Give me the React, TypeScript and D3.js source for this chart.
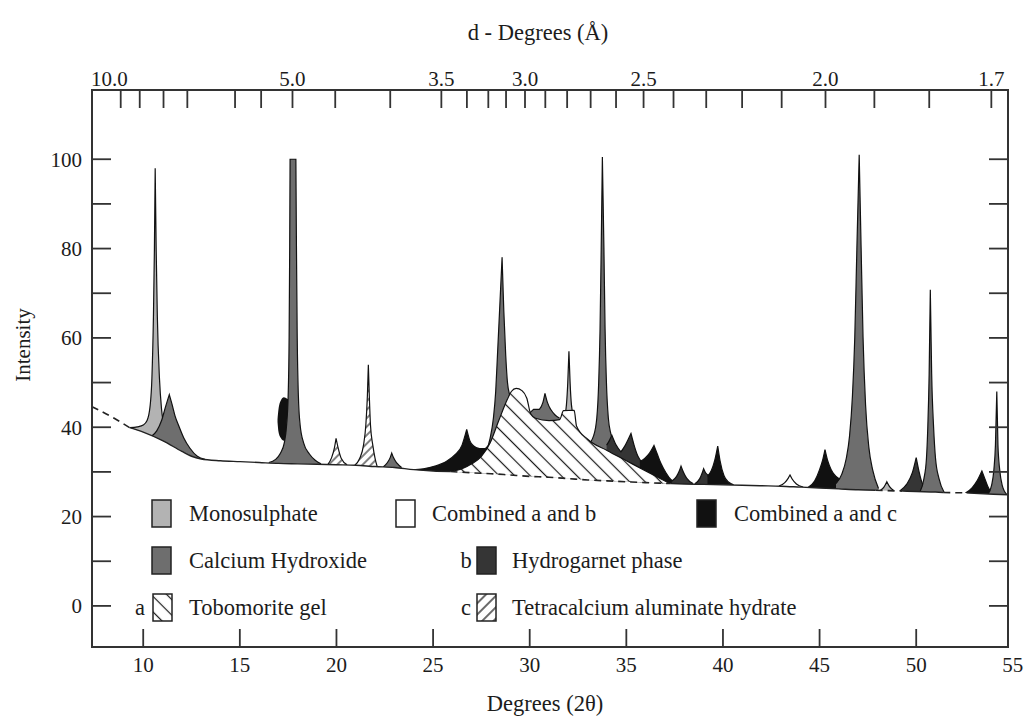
import React from 'react';
import * as d3 from 'd3';

// ---- chart data ----

// 2-theta ticks on the bottom axis
const thetaTicks = [10, 15, 20, 25, 30, 35, 40, 45, 50];
const thetaLabels = [10, 15, 20, 25, 30, 35, 40, 45, 50, 55];
// intensity ticks
const intensityTicks = [0, 10, 20, 30, 40, 50, 60, 70, 80, 90, 100];
const intensityLabels = [0, 20, 40, 60, 80, 100];
// d-spacing ticks on the top axis (Angstrom)
const dTicks = [10, 9, 8, 7.2, 6, 5.5, 5, 4.45, 3.9, 3.5, 3.33, 3.2, 3.1, 3.0, 2.9, 2.8, 2.7, 2.6, 2.5, 2.4, 2.3, 2.2, 2.1, 2.0, 1.9, 1.8, 1.7];
const dLabels = ['10.0', '5.0', '3.5', '3.0', '2.5', '2.0', '1.7'];

// background curve [2theta, intensity]
const baseline = [
  [7.35, 44.6], [8.5, 42.0], [9.3, 39.9], [10, 38.9], [11, 37.0], [12, 34.6], [12.5, 33.5], [13, 32.9],
  [14, 32.5], [15, 32.3], [16, 32.1], [17, 31.9], [18, 31.8], [19, 31.7], [20, 31.6], [21, 31.5],
  [22, 31.2], [23, 31.0], [24, 30.5], [25, 30.2], [25.9, 30.1], [27, 29.8], [28, 29.6], [29, 29.3],
  [30, 29.0], [31, 28.8], [32, 28.5], [33, 28.2], [34, 28.0], [35, 27.8], [36, 27.6], [37.3, 27.4],
  [38, 27.3], [39, 27.2], [40, 27.1], [41, 27.0], [42, 26.9], [43, 26.8], [44, 26.6], [45, 26.4],
  [46, 26.2], [47, 26.0], [47.9, 25.9], [49.3, 25.7], [50, 25.6], [51, 25.5], [51.4, 25.4],
  [52.6, 25.3], [53, 25.2], [54, 25.0], [54.75, 24.9]
];
const dashedRanges = [[7.35, 9.3], [25.9, 37.3], [47.9, 49.3], [51.4, 52.6]];

// peak outlines [2theta, intensity], left to right
const mono106 = [[9.3, 39.9], [9.7, 40.1], [10.0, 40.5], [10.2, 41.5], [10.35, 44.5], [10.45, 51], [10.53, 65], [10.58, 80], [10.62, 98], [10.67, 80], [10.73, 65], [10.84, 51], [10.95, 44], [11.1, 40]];
const ch113 = [[10.43, 38.0], [10.7, 39.2], [10.95, 41.5], [11.15, 44.5], [11.35, 47.3], [11.5, 45.0], [11.65, 42.5], [11.85, 40.2], [12.1, 37.6], [12.42, 35.3], [12.8, 33.5], [13.2, 32.8]];
// [2theta, top, bottom]
const lens172 = [[16.95, 41.8, 41.2], [17.0, 44.0, 39.0], [17.12, 46.0, 37.6], [17.28, 46.7, 37.0], [17.45, 46.4, 37.3], [17.6, 46.0, 38.0]];
const ch177 = [[16.5, 32.1], [16.85, 32.8], [17.1, 34.2], [17.3, 36.5], [17.42, 40.5], [17.5, 47], [17.55, 60], [17.58, 80], [17.6, 100], [17.9, 100], [17.93, 80], [17.97, 60], [18.03, 47], [18.12, 40.5], [18.3, 36.5], [18.6, 34.0], [18.9, 32.6], [19.2, 31.8]];
const tet200 = [[19.55, 31.65], [19.75, 33.2], [19.9, 35.5], [19.98, 37.5], [20.08, 35.5], [20.25, 33.0], [20.55, 31.6]];
const tet216 = [[20.95, 31.5], [21.2, 33.0], [21.4, 36.0], [21.52, 40.5], [21.6, 47], [21.65, 54.0], [21.7, 47], [21.76, 40.5], [21.88, 36.0], [22.0, 33.0], [22.1, 31.3]];
const ch229 = [[22.42, 31.1], [22.62, 32.0], [22.78, 33.2], [22.86, 34.2], [22.95, 33.2], [23.12, 32.0], [23.37, 31.0]];
const ac267 = [[23.9, 30.5], [24.5, 30.7], [25.1, 31.3], [25.7, 32.4], [26.15, 33.9], [26.5, 36.0], [26.74, 39.5], [26.9, 37.0], [27.1, 35.8], [27.4, 35.2], [27.7, 35.2], [28.0, 36.5]];
const ch286 = [[27.7, 34.0], [27.95, 37.5], [28.12, 42.0], [28.24, 48.0], [28.33, 56.0], [28.44, 66.0], [28.57, 78.0], [28.66, 66.0], [28.76, 56.0], [28.85, 50.0], [28.95, 47.5], [29.05, 46.5]];
const ch308 = [[29.95, 43.0], [30.2, 44.0], [30.5, 44.0], [30.68, 45.5], [30.79, 47.6], [30.92, 45.5], [31.1, 43.9], [31.3, 42.8], [31.55, 42.0]];
const mono320 = [[31.78, 42.0], [31.9, 45.0], [31.97, 50.0], [32.03, 57.0], [32.09, 50.0], [32.16, 45.0], [32.3, 42.0]];
const ch338 = [[33.0, 36.0], [33.3, 38.0], [33.47, 42.0], [33.57, 50.0], [33.64, 62.0], [33.7, 80.0], [33.76, 100.5], [33.84, 80.0], [33.9, 62.0], [33.97, 50.0], [34.07, 42.0], [34.2, 38.5], [34.45, 35.5]];
const hg345 = [[33.98, 36.0], [34.12, 37.0], [34.25, 38.2], [34.45, 36.2], [34.72, 34.5], [34.95, 36.0], [35.1, 37.3], [35.24, 38.6], [35.4, 36.0], [35.6, 33.5], [35.8, 32.2], [36.0, 31.5]];
const ac364 = [[35.7, 32.3], [35.95, 33.0], [36.2, 34.2], [36.43, 35.9], [36.6, 34.0], [36.8, 31.8], [37.05, 29.8], [37.3, 28.3], [37.55, 27.6]];
const tobHump = [[25.9, 30.1], [26.5, 30.7], [27.0, 31.8], [27.5, 33.5], [27.95, 36.5], [28.4, 41.5], [28.85, 46.3], [29.05, 48.0], [29.3, 48.7], [29.6, 48.2], [29.85, 46.5], [30.05, 43.0], [30.3, 42.0], [31.0, 41.5], [31.55, 41.7], [31.75, 43.7], [32.3, 43.8], [32.42, 40.3], [33.0, 37.3], [34.0, 34.8], [35.0, 32.5], [36.0, 30.2], [37.25, 27.4]];
const hg378 = [[37.35, 27.9], [37.6, 29.0], [37.75, 30.3], [37.83, 31.3], [37.95, 30.0], [38.12, 28.6], [38.45, 27.4]];
const hg390 = [[38.55, 27.35], [38.8, 28.5], [38.93, 29.8], [39.0, 30.7], [39.1, 29.8], [39.25, 29.2], [39.4, 29.8]];
const ac397 = [[39.2, 29.0], [39.4, 30.3], [39.57, 32.5], [39.73, 35.8], [39.85, 32.5], [40.05, 29.2], [40.3, 27.7], [40.55, 27.1]];
const ab435 = [[42.9, 26.85], [43.2, 27.6], [43.38, 28.6], [43.47, 29.3], [43.58, 28.4], [43.8, 27.3], [44.15, 26.6]];
const ac453 = [[44.4, 26.5], [44.75, 28.0], [45.0, 30.5], [45.15, 32.5], [45.28, 35.0], [45.42, 32.5], [45.6, 30.5], [45.85, 29.0], [46.1, 28.3], [46.3, 28.6]];
const ch470 = [[45.85, 27.4], [46.15, 29.5], [46.38, 33.0], [46.55, 38.0], [46.7, 47.0], [46.82, 60.0], [46.93, 80.0], [47.05, 101.0], [47.15, 80.0], [47.25, 60.0], [47.38, 45.0], [47.55, 35.5], [47.75, 30.4], [48.05, 26.3]];
const mono485 = [[48.15, 25.9], [48.33, 26.6], [48.48, 27.8], [48.62, 26.7], [48.85, 25.8]];
const hg500 = [[49.15, 25.7], [49.5, 27.2], [49.8, 29.8], [50.0, 33.2], [50.15, 30.0], [50.3, 27.6], [50.5, 26.6]];
const ch507 = [[50.2, 25.6], [50.4, 28.5], [50.53, 33.0], [50.6, 40.0], [50.67, 52.0], [50.73, 70.8], [50.8, 52.0], [50.9, 40.0], [51.0, 33.0], [51.18, 28.5], [51.45, 25.4]];
const ac534 = [[52.55, 25.25], [52.9, 26.5], [53.15, 28.0], [53.4, 30.2], [53.55, 28.5], [53.7, 26.8], [53.85, 25.6]];
const ch542 = [[53.72, 25.1], [53.9, 27.0], [54.02, 30.5], [54.1, 36.0], [54.17, 48.0], [54.23, 36.0], [54.32, 30.5], [54.45, 27.0], [54.7, 24.9]];

// drawing order, back to front
const peaks = [
  { pts: mono106, phase: 'mono' },
  { pts: ch113, phase: 'ch' },
  { pts: ch177, phase: 'ch' },
  { pts: tet200, phase: 'tet' },
  { pts: tet216, phase: 'tet' },
  { pts: ch229, phase: 'ch' },
  { pts: ac267, phase: 'ac' },
  { pts: ch286, phase: 'ch' },
  { pts: ch308, phase: 'ch' },
  { pts: mono320, phase: 'mono' },
  { pts: ch338, phase: 'ch' },
  { pts: hg345, phase: 'hg' },
  { pts: ac364, phase: 'ac' },
  { pts: tobHump, phase: 'tob', smooth: true },
  { pts: hg378, phase: 'hg' },
  { pts: hg390, phase: 'hg' },
  { pts: ac397, phase: 'ac' },
  { pts: ab435, phase: 'ab' },
  { pts: ac453, phase: 'ac' },
  { pts: ch470, phase: 'ch' },
  { pts: mono485, phase: 'mono' },
  { pts: hg500, phase: 'hg' },
  { pts: ch507, phase: 'ch' },
  { pts: ac534, phase: 'ac' },
  { pts: ch542, phase: 'ch' },
];

const legendEntries = [
  { label: 'Monosulphate', phase: 'mono', letter: '' },
  { label: 'Calcium Hydroxide', phase: 'ch', letter: '' },
  { label: 'Tobomorite gel', phase: 'tob', letter: 'a' },
  { label: 'Combined a and b', phase: 'ab', letter: '' },
  { label: 'Hydrogarnet phase', phase: 'hg', letter: 'b' },
  { label: 'Tetracalcium aluminate hydrate', phase: 'tet', letter: 'c' },
  { label: 'Combined a and c', phase: 'ac', letter: '' },
];

// ---- layout ----
const W = 1026, H = 717;
const frame = { left: 92, right: 1008, top: 90, bottom: 647 };
const FONT = "'Liberation Serif', 'DejaVu Serif', serif";
const INK = '#1c1c1c';

const fills = {
  mono: '#b3b3b3', ch: '#6e6e6e', hg: '#353535', ac: '#111111', ab: '#ffffff',
  tob: 'url(#hatchBack)', tet: 'url(#hatchFwd)'
};

const x = d3.scaleLinear().domain([7.35, 54.75]).range([frame.left, frame.right]);
const y = d3.scaleLinear().domain([-9.2, 115.5]).range([frame.bottom, frame.top]);

// Cu K-alpha
const LAMBDA = 1.5406;
const dToTheta = (d: number) => 2 * Math.asin(LAMBDA / (2 * d)) * 180 / Math.PI;

const lineGen = d3.line<number[]>().x(d => x(d[0])).y(d => y(d[1])).curve(d3.curveMonotoneX);

// split an outline where it changes direction, so peak tips stay sharp
function pieces(pts: number[][]) {
  const segs: number[][][] = [];
  let cur = [pts[0]];
  let dir = 0;
  for (let i = 1; i < pts.length; i++) {
    const s = Math.sign(pts[i][1] - pts[i - 1][1]);
    if (cur.length > 1 && s !== dir) {
      segs.push(cur);
      cur = [pts[i - 1]];
    }
    cur.push(pts[i]);
    dir = s;
  }
  segs.push(cur);
  return segs;
}

function outline(pts: number[][], smooth?: boolean) {
  if (smooth) return lineGen(pts) as string;
  return pieces(pts).map((s, i) => {
    const p = lineGen(s) as string;
    return i ? 'L' + p.slice(1) : p;
  }).join('');
}

function fillPath(pts: number[][], smooth?: boolean) {
  const a = pts[0], b = pts[pts.length - 1];
  return outline(pts, smooth) + `L${x(b[0])},${y(15)}L${x(a[0])},${y(15)}Z`;
}

const clipD = d3.area<number[]>().x(d => x(d[0])).y0(d => y(d[1])).y1(y(116)).curve(d3.curveMonotoneX)(baseline) as string;
const lensD = d3.area<number[]>().x(d => x(d[0])).y0(d => y(d[2])).y1(d => y(d[1])).curve(d3.curveMonotoneX)(lens172) as string;

function baseSegments() {
  const solid: number[][] = [];
  let start = baseline[0][0];
  dashedRanges.forEach(r => {
    if (r[0] > start) solid.push([start, r[0]]);
    start = r[1];
  });
  if (start < baseline[baseline.length - 1][0]) solid.push([start, baseline[baseline.length - 1][0]]);
  const seg = (r: number[]) => lineGen(baseline.filter(p => p[0] >= r[0] - 1e-6 && p[0] <= r[1] + 1e-6)) as string;
  return { solid: solid.map(seg), dashed: dashedRanges.map(seg) };
}

const legendSlots = [
  { bx: 152, tx: 189, row: 0 },
  { bx: 152, tx: 189, row: 1 },
  { bx: 153, tx: 189, row: 2, lx: 140 },
  { bx: 396, tx: 432, row: 0 },
  { bx: 477, tx: 512, row: 1, lx: 466 },
  { bx: 477, tx: 512, row: 2, lx: 466 },
  { bx: 697, tx: 734, row: 0 },
];
const rowTop = [500, 547, 594];

export default function App() {
  const segs = baseSegments();
  const textStyle = { fontFamily: FONT, fontSize: 21, fill: INK };
  const bigText = { fontFamily: FONT, fontSize: 22.5, fill: INK };
  return (
    <svg width={W} height={H} style={{ position: 'absolute', left: 0, top: 0, background: '#fff' }}>
      <defs>
        <pattern id="hatchBack" patternUnits="userSpaceOnUse" width="11" height="11" patternTransform="rotate(-45)">
          <rect width="11" height="11" fill="#fff" />
          <line x1="5.5" y1="-1" x2="5.5" y2="12" stroke="#1a1a1a" strokeWidth="1.2" />
        </pattern>
        <pattern id="hatchFwd" patternUnits="userSpaceOnUse" width="6" height="6" patternTransform="rotate(45)">
          <rect width="6" height="6" fill="#fff" />
          <line x1="3" y1="-1" x2="3" y2="7" stroke="#1a1a1a" strokeWidth="1.1" />
        </pattern>
        <pattern id="hatchFwdLegend" patternUnits="userSpaceOnUse" width="8" height="8" patternTransform="rotate(45)">
          <rect width="8" height="8" fill="#fff" />
          <line x1="4" y1="-1" x2="4" y2="9" stroke="#1a1a1a" strokeWidth="1.3" />
        </pattern>
        <clipPath id="aboveBase">
          <path d={clipD} />
        </clipPath>
      </defs>

      <rect width={W} height={H} fill="#fff" />

      {/* peaks */}
      <g clipPath="url(#aboveBase)">
        {peaks.map((p, i) => (
          <g key={i}>
            {i === 2 && <path d={lensD} fill={fills.ac} />}
            <path d={fillPath(p.pts, p.smooth)} fill={fills[p.phase]} />
            <path d={outline(p.pts, p.smooth)} fill="none" stroke="#111" strokeWidth={1.2} />
          </g>
        ))}
      </g>

      {/* background line */}
      {segs.solid.map((d, i) => <path key={'s' + i} d={d} fill="none" stroke="#222" strokeWidth={1.4} />)}
      {segs.dashed.map((d, i) => <path key={'d' + i} d={d} fill="none" stroke="#222" strokeWidth={1.6} strokeDasharray="7,5" />)}

      {/* frame */}
      <rect x={frame.left} y={frame.top} width={frame.right - frame.left} height={frame.bottom - frame.top}
        fill="none" stroke="#333" strokeWidth={2} />

      {/* left / right ticks */}
      {intensityTicks.map(t => (
        <g key={'y' + t} stroke="#333" strokeWidth={1.8}>
          <line x1={frame.left} x2={frame.left + 19} y1={y(t)} y2={y(t)} />
          <line x1={frame.right} x2={frame.right - 19} y1={y(t)} y2={y(t)} />
        </g>
      ))}
      {intensityLabels.map(t => (
        <text key={'yl' + t} x={82} y={y(t)} dy="0.35em" textAnchor="end" style={textStyle}>{t}</text>
      ))}
      <text transform={`translate(30,345) rotate(-90)`} textAnchor="middle" style={textStyle}>Intensity</text>

      {/* bottom ticks */}
      {thetaTicks.map(t => (
        <line key={'x' + t} x1={x(t)} x2={x(t)} y1={frame.bottom} y2={frame.bottom - 18} stroke="#333" strokeWidth={1.8} />
      ))}
      {thetaLabels.map(t => (
        <text key={'xl' + t} x={x(t)} y={672} textAnchor="middle" style={textStyle}>{t}</text>
      ))}
      <text x={545} y={711} textAnchor="middle" style={bigText}>Degrees (2θ)</text>

      {/* top d-spacing axis */}
      {dTicks.map(d => (
        <line key={'d' + d} x1={x(dToTheta(d))} x2={x(dToTheta(d))} y1={frame.top} y2={frame.top + 18} stroke="#333" strokeWidth={1.8} />
      ))}
      {dLabels.map((l, i) => (
        i === 0
          ? <text key={l} x={frame.left - 1} y={86} textAnchor="start" style={textStyle}>{l}</text>
          : <text key={l} x={x(dToTheta(+l))} y={86} textAnchor="middle" style={textStyle}>{l}</text>
      ))}
      <text x={538} y={40} textAnchor="middle" style={bigText}>d - Degrees (Å)</text>

      {/* legend */}
      {legendEntries.map((e, i) => {
        const s = legendSlots[i];
        const top = rowTop[s.row];
        const fill = e.phase === 'tet' ? 'url(#hatchFwdLegend)' : fills[e.phase];
        return (
          <g key={e.label}>
            {e.letter && <text x={s.lx} y={top + 21} textAnchor="middle" style={bigText}>{e.letter}</text>}
            <rect x={s.bx} y={top} width={19} height={27} fill={fill} stroke="#222" strokeWidth={1.5} />
            <text x={s.tx} y={top + 21} style={bigText}>{e.label}</text>
          </g>
        );
      })}
    </svg>
  );
}
